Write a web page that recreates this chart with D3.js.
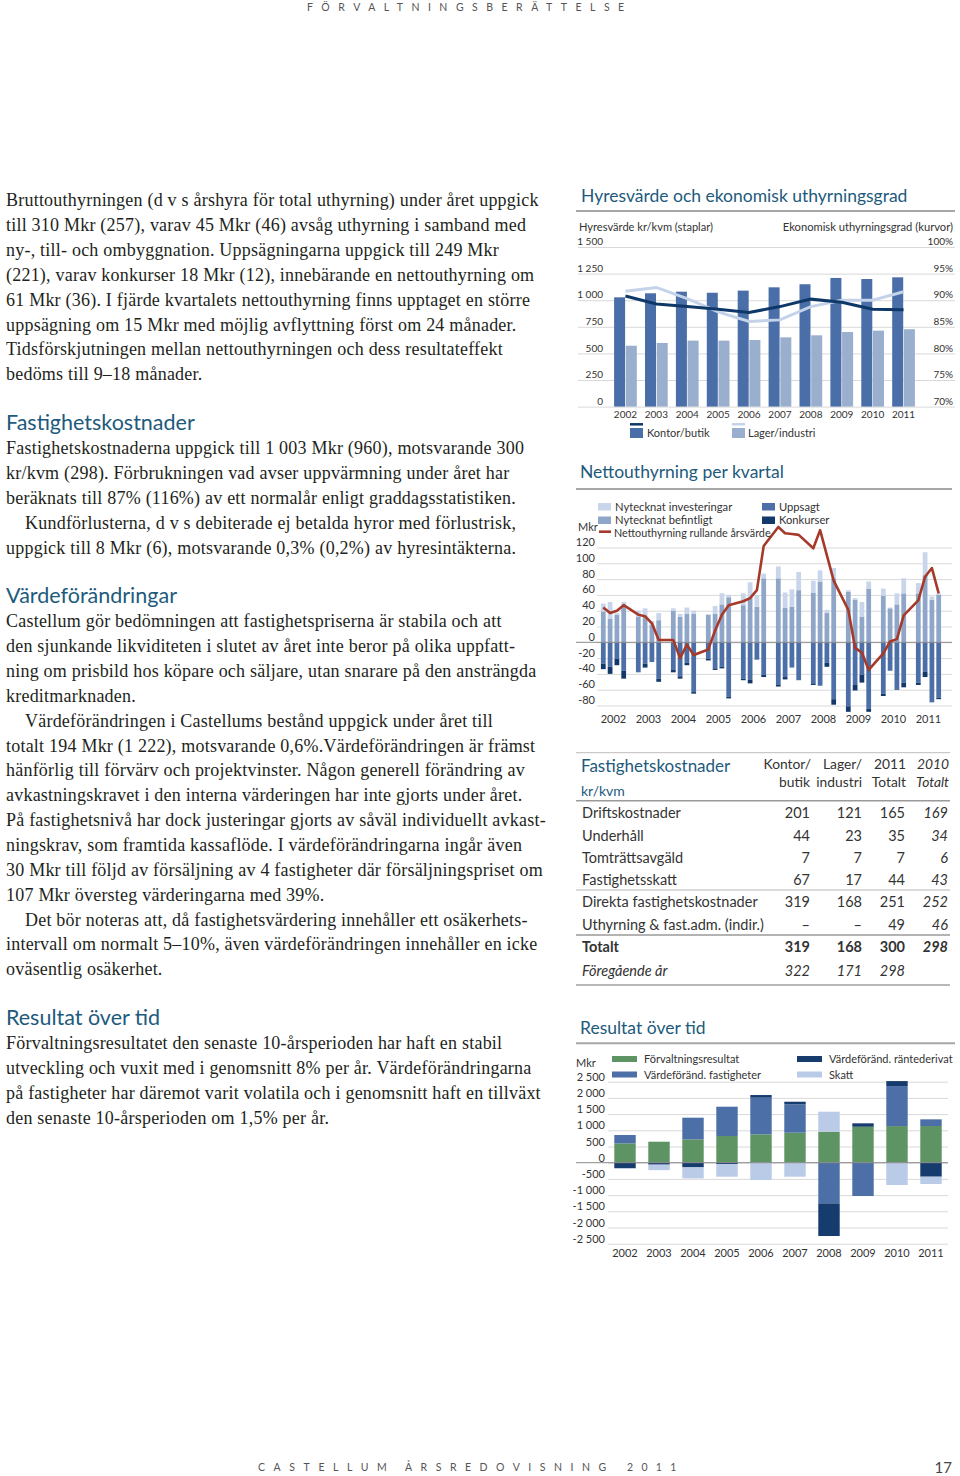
<!DOCTYPE html>
<html><head><meta charset="utf-8">
<script src="https://cdn.jsdelivr.net/npm/d3@7"></script>
<style>
body{margin:0;background:#fff;}
svg{display:block;}
</style></head><body>
<svg id="page" width="960" height="1476"></svg>
<script>
// ================= DATA =================
const years = ["2002","2003","2004","2005","2006","2007","2008","2009","2010","2011"];

// Chart 1: Hyresvärde (kr/kvm) and ekonomisk uthyrningsgrad (%)
const hvTicks = [0, 250, 500, 750, 1000, 1250, 1500];
const ugTicks = [70, 75, 80, 85, 90, 95, 100];
const hvKontor = [1027, 1065, 1080, 1070, 1090, 1121, 1150, 1209, 1199, 1215];
const hvLager  = [572, 598, 620, 620, 626, 651, 670, 701, 714, 727];
const ugKontor = [90.8, 89.3, 88.8, 88.3, 87.7, 88.8, 90.2, 89.6, 88.3, 88.2];
const ugLager  = [91.7, 92.4, 90.3, 87.8, 86.0, 86.3, 88.8, 90.0, 90.0, 91.6];

// Chart 2: Nettouthyrning per kvartal (Mkr), 4 quarters per year
const ntTicks = [-80, -60, -40, -20, 0, 20, 40, 60, 80, 100, 120];
const nyBef = [39,30,35,48, 32,32,22,28, 40,32,36,36, 35,36,48,57, 47,56,45,81,
               81,44,45,66, 63,77,37,81, 64,54,32,68, 59,43,48,62, 62,85,54,60];
const nyInv = [10,21,2,3, 8,11,5,9, 3,4,8,4, 0,10,14,3, 15,20,15,6,
               15,19,22,23, 15,14,4,13, 2,2,19,9, 9,1,14,19, 13,29,4,2];
const uppsagt = [-27,-31,-21,-36, -38,-27,-25,-46, -35,-43,-26,-63, -21,-33,-31,-69, -46,-47,-22,-41,
                 -54,-44,-32,-48, -52,-55,-26,-72, -81,-54,-41,-84, -65,-36,-59,-51, -51,-37,-76,-70];
const konkurser = [-7,-9,-8,-10, 0,-5,0,-4, -3,-3,-3,-2, -2,-2,-2,-2, -2,-5,0,-3,
                   -2,-3,0,0, -2,0,-5,-7, -7,-7,-10,-4, -3,0,-1,-6, -3,-7,0,-2];
const nettoRullande = [44,37,40,47, 35,33,24,3, 3,-20,-3,-16, -9,15,35,47, 52,56,66,122,
                       146,138,137,136, 119,142,110,78, 41,-7,-13,-35, -14,1,4,34, 53,83,94,62];

// Chart 3: Fastighetskostnader kr/kvm (table)
const tblRows   = ["Driftskostnader","Underhåll","Tomträttsavgäld","Fastighetsskatt",
                   "Direkta fastighetskostnader","Uthyrning & fast.adm. (indir.)","Totalt","Föregående år"];
const tblKontor = ["201","44","7","67","319","–","319","322"];
const tblLager  = ["121","23","7","17","168","–","168","171"];
const tbl2011   = ["165","35","7","44","251","49","300","298"];
const tbl2010   = ["169","34","6","43","252","46","298",""];

// Chart 4: Resultat över tid (Mkr)
const resTicks = [-2500,-2000,-1500,-1000,-500,0,500,1000,1500,2000,2500];
const forvRes  = [597, 648, 720, 823, 875, 926, 957, 1110, 1130, 1132];
const vfFast   = [257, 0, 669, 905, 1131, 874, -1255, -1028, 1235, 206];
const vfRd     = [-170, -60, -144, -41, 82, 82, -1008, 105, 154, -432];
const skatt    = [-20, -170, -340, -391, -535, -432, 617, 0, -688, -226];

// ================= STYLE =================
const SANS = "Lato, 'Open Sans', 'Noto Sans', sans-serif";
const SERIF = "'Liberation Serif', 'Times New Roman', serif";
const TEAL = "#1d5a7c";
const INK = "#231f20";
const GRID = "#d9d9d9";
const RULE = "#a6a6a6";

const svg = d3.select("#page");
const loc = d3.formatLocale({decimal: ",", thousands: " ", grouping: [3], currency: ["", ""], minus: "-"});
const fmt = loc.format(",d");

function txt(g, x, y, s, size, opts = {}) {
  return g.append("text").attr("x", x).attr("y", y).attr("dy", "0.35em")
    .attr("font-family", opts.family || SANS).attr("font-size", size)
    .attr("fill", opts.fill || "#333").attr("text-anchor", opts.anchor || "start")
    .attr("font-weight", opts.weight || null).attr("font-style", opts.style || null)
    .attr("letter-spacing", opts.ls || null).text(s);
}

// ================= PAGE HEADER / FOOTER =================
txt(svg, 307, 7, "FÖRVALTNINGSBERÄTTELSE", 10.5, {ls: 8.5, fill: "#555"});
txt(svg, 258, 1467, "CASTELLUM", 10.5, {ls: 8.6, fill: "#555"});
txt(svg, 405, 1467, "ÅRSREDOVISNING", 10.5, {ls: 8.5, fill: "#555"});
txt(svg, 627, 1467, "2011", 10.5, {ls: 8.3, fill: "#555"});
txt(svg, 952, 1468, "17", 15, {anchor: "end", fill: "#444"});

// ================= LEFT TEXT COLUMN =================
const body = svg.append("g");
const LS = 24.85;
function para(lines, y0) {
  lines.forEach((l, i) => {
    const ind = l.startsWith("\t");
    txt(body, ind ? 25 : 6, y0 + i * LS, l.replace("\t", ""), 18, {family: SERIF, fill: INK, ls: 0.22});
  });
}
function heading(s, y) { txt(body, 6, y, s, 21.5, {fill: TEAL}); }

para([
  "Bruttouthyrningen (d v s årshyra för total uthyrning) under året uppgick",
  "till 310 Mkr (257), varav 45 Mkr (46) avsåg uthyrning i samband med",
  "ny-, till- och ombyggnation. Uppsägningarna uppgick till 249 Mkr",
  "(221), varav konkurser 18 Mkr (12), innebärande en nettouthyrning om",
  "61 Mkr (36). I fjärde kvartalets nettouthyrning finns upptaget en större",
  "uppsägning om 15 Mkr med möjlig avflyttning först om 24 månader.",
  "Tidsförskjutningen mellan nettouthyrningen och dess resultateffekt",
  "bedöms till 9–18 månader."
], 200);
heading("Fastighetskostnader", 422);
para([
  "Fastighetskostnaderna uppgick till 1 003 Mkr (960), motsvarande 300",
  "kr/kvm (298). Förbrukningen vad avser uppvärmning under året har",
  "beräknats till 87% (116%) av ett normalår enligt graddagsstatistiken.",
  "\tKundförlusterna, d v s debiterade ej betalda hyror med förlustrisk,",
  "uppgick till 8 Mkr (6), motsvarande 0,3% (0,2%) av hyresintäkterna."
], 448);
heading("Värdeförändringar", 595);
para([
  "Castellum gör bedömningen att fastighetspriserna är stabila och att",
  "den sjunkande likviditeten i slutet av året inte beror på olika uppfatt-",
  "ning om prisbild hos köpare och säljare, utan snarare på den ansträngda",
  "kreditmarknaden.",
  "\tVärdeförändringen i Castellums bestånd uppgick under året till",
  "totalt 194 Mkr (1 222), motsvarande 0,6%.Värdeförändringen är främst",
  "hänförlig till förvärv och projektvinster. Någon generell förändring av",
  "avkastningskravet i den interna värderingen har inte gjorts under året.",
  "På fastighetsnivå har dock justeringar gjorts av såväl individuellt avkast-",
  "ningskrav, som framtida kassaflöde. I värdeförändringarna ingår även",
  "30 Mkr till följd av försäljning av 4 fastigheter där försäljningspriset om",
  "107 Mkr översteg värderingarna med 39%.",
  "\tDet bör noteras att, då fastighetsvärdering innehåller ett osäkerhets-",
  "intervall om normalt 5–10%, även värdeförändringen innehåller en icke",
  "oväsentlig osäkerhet."
], 621);
heading("Resultat över tid", 1017);
para([
  "Förvaltningsresultatet den senaste 10-årsperioden har haft en stabil",
  "utveckling och vuxit med i genomsnitt 8% per år. Värdeförändringarna",
  "på fastigheter har däremot varit volatila och i genomsnitt haft en tillväxt",
  "den senaste 10-årsperioden om 1,5% per år."
], 1043);

function styleAxis(g, size) {
  g.select(".domain").remove();
  g.selectAll("text").attr("font-family", SANS).attr("font-size", size).attr("fill", "#333");
}

// ================= CHART 1 =================
{
  const g = svg.append("g");
  txt(g, 581, 196, "Hyresvärde och ekonomisk uthyrningsgrad", 17.5, {fill: TEAL});
  g.append("line").attr("x1", 576).attr("x2", 955).attr("y1", 211).attr("y2", 211).attr("stroke", RULE).attr("stroke-width", 2);
  txt(g, 579, 227, "Hyresvärde kr/kvm (staplar)", 11.1);
  txt(g, 953, 227, "Ekonomisk uthyrningsgrad (kurvor)", 11.2, {anchor: "end"});

  const y = d3.scaleLinear().domain([0, 1500]).range([406.6, 247]);
  const yr = d3.scaleLinear().domain([70, 100]).range([406.6, 247]);
  const x = d3.scaleBand().domain(years).range([610, 919]).paddingInner(0.265).paddingOuter(0.1325);
  const xs = d3.scaleBand().domain(["k", "l"]).range([0, x.bandwidth()]).paddingInner(0.06);

  g.append("g").attr("transform", "translate(578,0)")
    .call(d3.axisRight(y).tickValues(hvTicks).tickSize(377).tickFormat(fmt))
    .call(a => { styleAxis(a, 10);
      a.selectAll(".tick line").attr("stroke", GRID);
      a.selectAll("text").attr("x", 25).attr("text-anchor", "end").attr("y", -5.5); });
  g.append("g").attr("transform", "translate(953,0)")
    .call(d3.axisLeft(yr).tickValues(ugTicks).tickSize(0).tickFormat(d => d + "%"))
    .call(a => { styleAxis(a, 10); a.selectAll("text").attr("x", 0).attr("y", -5.5); });

  const rows = years.map((yy, i) => ({year: yy, k: hvKontor[i], l: hvLager[i], uk: ugKontor[i], ul: ugLager[i]}));
  g.selectAll(".bk").data(rows).join("rect")
    .attr("x", d => x(d.year) + xs("k")).attr("width", xs.bandwidth())
    .attr("y", d => y(d.k)).attr("height", d => y(0) - y(d.k)).attr("fill", "#4a6ea7");
  g.selectAll(".bl").data(rows).join("rect")
    .attr("x", d => x(d.year) + xs("l")).attr("width", xs.bandwidth())
    .attr("y", d => y(d.l)).attr("height", d => y(0) - y(d.l)).attr("fill", "#9aaecd");

  const cx = d => x(d.year) + x.bandwidth() / 2;
  g.append("path").datum(rows).attr("fill", "none").attr("stroke", "#c4d3ea").attr("stroke-width", 3)
    .attr("d", d3.line().x(cx).y(d => yr(d.ul)));
  g.append("path").datum(rows).attr("fill", "none").attr("stroke", "#0d3868").attr("stroke-width", 3)
    .attr("d", d3.line().x(cx).y(d => yr(d.uk)));

  g.append("g").attr("transform", "translate(0,406.6)")
    .call(d3.axisBottom(x).tickSize(0).tickPadding(4))
    .call(a => styleAxis(a, 10));

  // legend
  g.append("line").attr("x1", 630).attr("x2", 643).attr("y1", 424.3).attr("y2", 424.3).attr("stroke", "#0d3868").attr("stroke-width", 2.5);
  g.append("rect").attr("x", 630).attr("y", 428).attr("width", 13).attr("height", 10).attr("fill", "#4a6ea7");
  txt(g, 647, 433, "Kontor/butik", 11);
  g.append("line").attr("x1", 732).attr("x2", 745).attr("y1", 424.3).attr("y2", 424.3).attr("stroke", "#c4d3ea").attr("stroke-width", 2.5);
  g.append("rect").attr("x", 732).attr("y", 428).attr("width", 13).attr("height", 10).attr("fill", "#9aaecd");
  txt(g, 748, 433, "Lager/industri", 11);
}

// ================= CHART 2 =================
{
  const g = svg.append("g");
  txt(g, 580, 472, "Nettouthyrning per kvartal", 17.5, {fill: TEAL});
  g.append("line").attr("x1", 576).attr("x2", 952).attr("y1", 489).attr("y2", 489).attr("stroke", RULE).attr("stroke-width", 2);

  const y = d3.scaleLinear().domain([-80, 120]).range([705.5, 547.5]);
  const x = d3.scaleBand().domain(years).range([596, 946]).paddingInner(0.223).paddingOuter(0.1115);
  const xq = d3.scaleBand().domain([0, 1, 2, 3]).range([0, x.bandwidth()]).paddingInner(0.3).paddingOuter(0.15);

  g.append("g").attr("transform", "translate(597,0)")
    .call(d3.axisRight(y).tickValues(ntTicks).tickSize(355).tickFormat(d => d))
    .call(a => { styleAxis(a, 11);
      a.selectAll(".tick line").attr("stroke", GRID);
      a.selectAll("text").attr("x", -2).attr("text-anchor", "end").attr("y", -5.5); });
  txt(g, 578, 527.5, "Mkr", 11);

  const recs = d3.range(40).map(i => ({year: years[Math.floor(i / 4)], q: i % 4,
    bef: nyBef[i], inv: nyInv[i], upp: uppsagt[i], konk: konkurser[i], net: nettoRullande[i]}));
  const keys = ["bef", "inv", "upp", "konk"];
  const col = {bef: "#8fa6c9", inv: "#c8d5ea", upp: "#4b6fa6", konk: "#15386a"};
  const stack = d3.stack().keys(keys).offset(d3.stackOffsetDiverging)(recs);
  g.selectAll(".s").data(stack).join("g").attr("fill", s => col[s.key])
    .selectAll("rect").data(s => s).join("rect")
    .attr("x", d => x(d.data.year) + xq(d.data.q)).attr("width", xq.bandwidth())
    .attr("y", d => y(Math.max(d[0], d[1]))).attr("height", d => Math.abs(y(d[0]) - y(d[1])));

  // zero line
  g.append("line").attr("x1", 576).attr("x2", 952).attr("y1", y(0)).attr("y2", y(0)).attr("stroke", "#8a8a8a").attr("stroke-width", 1);

  g.append("path").datum(recs).attr("fill", "none").attr("stroke", "#a53a2b").attr("stroke-width", 2.6)
    .attr("stroke-linejoin", "round")
    .attr("d", d3.line().x(d => x(d.year) + xq(d.q) + xq.bandwidth() / 2).y(d => y(d.net)));

  g.append("g").attr("transform", "translate(0,705.5)")
    .call(d3.axisBottom(x).tickSize(0).tickPadding(9.5))
    .call(a => styleAxis(a, 11));

  // legend
  const lg = [[598, 503, "inv", "Nytecknat investeringar"], [598, 516.5, "bef", "Nytecknat befintligt"],
              [762, 503, "upp", "Uppsagt"], [762, 516.5, "konk", "Konkurser"]];
  lg.forEach(([lx, ly, k, s]) => {
    g.append("rect").attr("x", lx).attr("y", ly).attr("width", 13).attr("height", 7.5).attr("fill", col[k]);
    txt(g, lx + 17, ly + 4, s, 11.2);
  });
  g.append("line").attr("x1", 599).attr("x2", 611).attr("y1", 531.7).attr("y2", 531.7).attr("stroke", "#a53a2b").attr("stroke-width", 2.6);
  txt(g, 614, 532.8, "Nettouthyrning rullande årsvärde", 10.8);
}

// ================= CHART 3: TABLE =================
{
  const g = svg.append("g");
  const hl = (yy, w, c) => g.append("line").attr("x1", 576).attr("x2", 950).attr("y1", yy).attr("y2", yy).attr("stroke", c).attr("stroke-width", w);
  hl(752.7, 1, "#bdbdbd");
  hl(800.7, 1.5, "#9a9a9a");
  hl(890, 1, "#b5b5b5");
  hl(935, 1.5, "#9a9a9a");
  hl(985, 1.5, "#a0a0a0");
  txt(g, 581, 766, "Fastighetskostnader", 17, {fill: TEAL});
  txt(g, 581, 791.5, "kr/kvm", 14, {fill: TEAL});
  txt(g, 811, 764.3, "Kontor/", 13.8, {anchor: "end"});
  txt(g, 810, 782.3, "butik", 13.8, {anchor: "end"});
  txt(g, 862, 764.3, "Lager/", 13.8, {anchor: "end"});
  txt(g, 862, 782.3, "industri", 13.8, {anchor: "end"});
  txt(g, 906, 764.3, "2011", 13.8, {anchor: "end"});
  txt(g, 906, 782.3, "Totalt", 13.8, {anchor: "end"});
  txt(g, 949, 764.3, "2010", 13.8, {anchor: "end", style: "italic"});
  txt(g, 949, 782.3, "Totalt", 13.8, {anchor: "end", style: "italic"});

  const rowY = [813.3, 835.7, 858.3, 880, 902.3, 925, 946.7, 971];
  tblRows.forEach((r, i) => {
    const bold = r === "Totalt" ? 700 : null;
    const ital = r === "Föregående år" ? "italic" : null;
    txt(g, 582, rowY[i], r, 14.5, {weight: bold, style: ital});
    txt(g, 810, rowY[i], tblKontor[i], 14.5, {anchor: "end", weight: bold, style: ital});
    txt(g, 862, rowY[i], tblLager[i], 14.5, {anchor: "end", weight: bold, style: ital});
    txt(g, 905, rowY[i], tbl2011[i], 14.5, {anchor: "end", weight: bold, style: ital});
    txt(g, 948, rowY[i], tbl2010[i], 14.5, {anchor: "end", weight: bold, style: "italic"});
  });
}

// ================= CHART 4 =================
{
  const g = svg.append("g");
  txt(g, 580, 1028, "Resultat över tid", 17.5, {fill: TEAL});
  g.append("line").attr("x1", 576).attr("x2", 955).attr("y1", 1043.3).attr("y2", 1043.3).attr("stroke", RULE).attr("stroke-width", 2);

  const y = d3.scaleLinear().domain([-2500, 2500]).range([1243.7, 1081.7]);
  const x = d3.scaleBand().domain(years).range([608, 948]).paddingInner(0.37).paddingOuter(0.185);

  g.append("g").attr("transform", "translate(608,0)")
    .call(d3.axisRight(y).tickValues(resTicks).tickSize(340).tickFormat(fmt))
    .call(a => { styleAxis(a, 11);
      a.selectAll(".tick line").attr("stroke", GRID);
      a.selectAll("text").attr("x", -3).attr("text-anchor", "end").attr("y", -5); });
  txt(g, 576, 1063, "Mkr", 11);

  const recs = years.map((yy, i) => ({year: yy, forv: forvRes[i], fast: vfFast[i], rd: vfRd[i], skatt: skatt[i]}));
  const keys = ["forv", "fast", "rd", "skatt"];
  const col = {forv: "#5e9364", fast: "#4b6fa6", rd: "#163b6d", skatt: "#b9cbe7"};
  const stack = d3.stack().keys(keys).offset(d3.stackOffsetDiverging)(recs);
  g.selectAll(".s").data(stack).join("g").attr("fill", s => col[s.key])
    .selectAll("rect").data(s => s).join("rect")
    .attr("x", d => x(d.data.year)).attr("width", x.bandwidth())
    .attr("y", d => y(Math.max(d[0], d[1]))).attr("height", d => Math.abs(y(d[0]) - y(d[1])));

  g.append("line").attr("x1", 576).attr("x2", 948).attr("y1", y(0)).attr("y2", y(0)).attr("stroke", "#8a8a8a").attr("stroke-width", 1);

  g.append("g").attr("transform", "translate(0,1243.7)")
    .call(d3.axisBottom(x).tickSize(0).tickPadding(5.5))
    .call(a => styleAxis(a, 11));

  const lg = [[612, 1056, "forv", "Förvaltningsresultat"], [612, 1071.5, "fast", "Värdeföränd. fastigheter"],
              [797, 1056, "rd", "Värdeföränd. räntederivat"], [797, 1071.5, "skatt", "Skatt"]];
  lg.forEach(([lx, ly, k, s]) => {
    g.append("rect").attr("x", lx).attr("y", ly).attr("width", 25).attr("height", 6).attr("fill", col[k]);
    txt(g, lx + 32, ly + 3.3, s, 11);
  });
}
</script>
</body></html>
